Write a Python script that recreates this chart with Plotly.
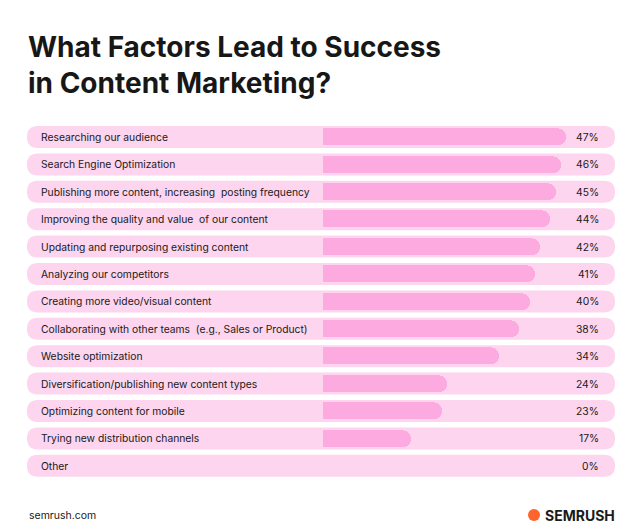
import plotly.graph_objects as go

categories = ["Researching our audience", "Search Engine Optimization",
              "Publishing more content, increasing  posting frequency",
              "Improving the quality and value  of our content",
              "Updating and repurposing existing content", "Analyzing our competitors",
              "Creating more video/visual content",
              "Collaborating with other teams  (e.g., Sales or Product)",
              "Website optimization", "Diversification/publishing new content types",
              "Optimizing content for mobile", "Trying new distribution channels", "Other"]
values = [47, 46, 45, 44, 42, 41, 40, 38, 34, 24, 23, 17, 0]
value_labels = [f"{v}%" for v in values]

W, H = 642, 528
OFF = 8  # page body margin
n = len(categories)
ypos = list(range(n))

def px(x):
    return (x - OFF) / W

def py(y):
    return 1 - (y - OFF) / H

top, step = 123.3, 27.4

def rrect(x0, x1, y0, y1, r):
    X0, X1, Y0, Y1 = px(x0), px(x1), py(y0), py(y1)
    rx, ry = r / W, r / H
    return (f"M{X0+rx},{Y0} L{X1-rx},{Y0} Q{X1},{Y0} {X1},{Y0-ry} L{X1},{Y1+ry} "
            f"Q{X1},{Y1} {X1-rx},{Y1} L{X0+rx},{Y1} Q{X0},{Y1} {X0},{Y1+ry} "
            f"L{X0},{Y0-ry} Q{X0},{Y0} {X0+rx},{Y0} Z")

shapes = []
for i in ypos:
    c = top + step * (i + 0.5)
    shapes.append(dict(type="path", xref="paper", yref="paper", layer="below",
                       path=rrect(27, 615, c - 11, c + 11, 11),
                       fillcolor="#FDD5EE", line_width=0))

fig = go.Figure()
fig.add_trace(go.Bar(y=ypos, x=values, orientation="h", width=0.62,
                     marker=dict(color="#FCAADF", cornerradius=8, line_width=0),
                     showlegend=False))
ann = []
for i, (c, l) in enumerate(zip(categories, value_labels)):
    ann.append(dict(x=px(39), xref="paper", y=i, yref="y", text=c, showarrow=False,
                    xanchor="left", font=dict(size=10.3, color="#1a1a1a")))
    ann.append(dict(x=px(601), xref="paper", y=i, yref="y", text=l, showarrow=False,
                    xanchor="right", font=dict(size=10.3, color="#1a1a1a")))
ann.append(dict(x=px(26), xref="paper", y=py(28), yref="paper", yanchor="top", xanchor="left",
                align="left", showarrow=False,
                text="<b>What Factors Lead to Success<br>in Content Marketing?</b>",
                font=dict(size=28, color="#171717", family="Inter")))
ann.append(dict(x=px(27), xref="paper", y=py(515), yref="paper", yanchor="middle", xanchor="left",
                showarrow=False, text="semrush.com", font=dict(size=10.5, color="#1a1a1a")))
ann.append(dict(x=px(617), xref="paper", y=py(515), yref="paper", yanchor="middle", xanchor="right",
                showarrow=False, text="<b>SEMRUSH</b>",
                font=dict(size=14, color="#1a1a1a", family="Inter")))
shapes.append(dict(type="circle", xref="paper", yref="paper", x0=px(528), x1=px(540),
                   y0=py(521), y1=py(509), fillcolor="#FF642D", line_width=0))
fig.update_layout(
    width=W, height=H, margin=dict(l=0, r=0, t=0, b=0),
    paper_bgcolor="white", plot_bgcolor="rgba(0,0,0,0)",
    font=dict(family="Inter, Roboto, sans-serif"),
    bargap=0,
    xaxis=dict(domain=[px(323), 1], range=[0, (W - (323 - OFF)) / 5.17], visible=False, fixedrange=True),
    yaxis=dict(domain=[py(top + step * n), py(top)], range=[n - 0.5, -0.5], visible=False, fixedrange=True),
    annotations=ann, shapes=shapes,
)
fig.write_html("out.html")
